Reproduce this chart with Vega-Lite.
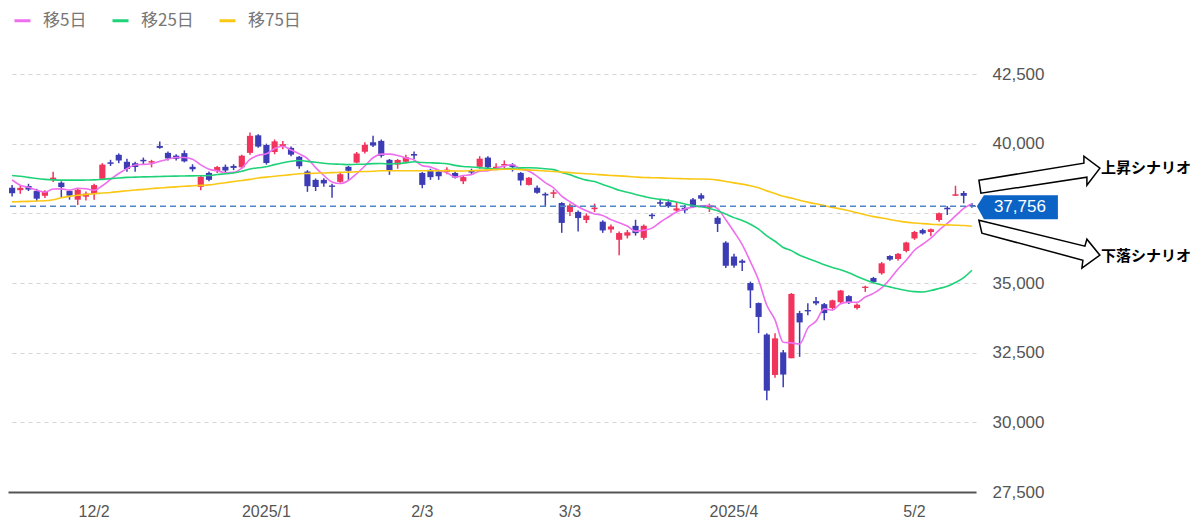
{
  "$schema": "https://vega.github.io/schema/vega-lite/v6.json",
  "width": 968,
  "height": 418,
  "autosize": {"type": "none"},
  "padding": {"left": 8, "top": 74, "right": 224, "bottom": 39},
  "background": "white",
  "config": {
    "view": {"stroke": null},
    "font": "Liberation Sans"
  },
  "data": {
    "values": [
      {"d": "2024-11-18", "o": 38420, "h": 38520, "l": 38100, "c": 38221, "m5": 38700, "m25": 38860, "m75": 37910},
      {"d": "2024-11-19", "o": 38330, "h": 38480, "l": 38200, "c": 38414, "m5": 38507, "m25": 38830, "m75": 37920},
      {"d": "2024-11-20", "o": 38480, "h": 38560, "l": 38300, "c": 38352, "m5": 38433, "m25": 38790, "m75": 37930},
      {"d": "2024-11-21", "o": 38300, "h": 38380, "l": 37930, "c": 38026, "m5": 38331, "m25": 38750, "m75": 37940},
      {"d": "2024-11-22", "o": 38130, "h": 38330, "l": 38050, "c": 38284, "m5": 38259, "m25": 38720, "m75": 37950},
      {"d": "2024-11-25", "o": 38700, "h": 38990, "l": 38620, "c": 38780, "m5": 38371, "m25": 38700, "m75": 37990},
      {"d": "2024-11-26", "o": 38600, "h": 38650, "l": 38060, "c": 38442, "m5": 38377, "m25": 38690, "m75": 38060},
      {"d": "2024-11-27", "o": 38300, "h": 38330, "l": 37990, "c": 38135, "m5": 38333, "m25": 38690, "m75": 38110},
      {"d": "2024-11-28", "o": 37990, "h": 38380, "l": 37800, "c": 38349, "m5": 38398, "m25": 38690, "m75": 38150},
      {"d": "2024-11-29", "o": 38100, "h": 38280, "l": 37960, "c": 38208, "m5": 38383, "m25": 38695, "m75": 38180},
      {"d": "2024-12-02", "o": 38200, "h": 38560, "l": 37990, "c": 38513, "m5": 38329, "m25": 38700, "m75": 38200},
      {"d": "2024-12-03", "o": 38740, "h": 39300, "l": 38700, "c": 39249, "m5": 38491, "m25": 38720, "m75": 38230},
      {"d": "2024-12-04", "o": 39330, "h": 39420, "l": 39200, "c": 39276, "m5": 38719, "m25": 38745, "m75": 38250},
      {"d": "2024-12-05", "o": 39600, "h": 39650, "l": 39300, "c": 39396, "m5": 38928, "m25": 38770, "m75": 38280},
      {"d": "2024-12-06", "o": 39350, "h": 39460, "l": 38990, "c": 39091, "m5": 39105, "m25": 38790, "m75": 38310},
      {"d": "2024-12-09", "o": 39300, "h": 39350, "l": 38990, "c": 39161, "m5": 39235, "m25": 38800, "m75": 38340},
      {"d": "2024-12-10", "o": 39420, "h": 39500, "l": 39250, "c": 39368, "m5": 39258, "m25": 38810, "m75": 38360},
      {"d": "2024-12-11", "o": 39320, "h": 39420, "l": 39150, "c": 39372, "m5": 39278, "m25": 38815, "m75": 38390},
      {"d": "2024-12-12", "o": 39920, "h": 40080, "l": 39820, "c": 39849, "m5": 39368, "m25": 38820, "m75": 38410},
      {"d": "2024-12-13", "o": 39670, "h": 39720, "l": 39400, "c": 39470, "m5": 39444, "m25": 38830, "m75": 38430},
      {"d": "2024-12-16", "o": 39570, "h": 39620, "l": 39400, "c": 39457, "m5": 39503, "m25": 38835, "m75": 38450},
      {"d": "2024-12-17", "o": 39660, "h": 39760, "l": 39330, "c": 39365, "m5": 39503, "m25": 38840, "m75": 38470},
      {"d": "2024-12-18", "o": 39170, "h": 39260, "l": 39000, "c": 39082, "m5": 39445, "m25": 38845, "m75": 38490},
      {"d": "2024-12-19", "o": 38450, "h": 38840, "l": 38330, "c": 38814, "m5": 39238, "m25": 38850, "m75": 38505},
      {"d": "2024-12-20", "o": 38950, "h": 39000, "l": 38650, "c": 38702, "m5": 39084, "m25": 38855, "m75": 38520},
      {"d": "2024-12-23", "o": 39020, "h": 39200, "l": 38950, "c": 39161, "m5": 39025, "m25": 38893, "m75": 38560},
      {"d": "2024-12-24", "o": 39170, "h": 39250, "l": 38950, "c": 39037, "m5": 38959, "m25": 38918, "m75": 38600},
      {"d": "2024-12-25", "o": 39200, "h": 39260, "l": 39050, "c": 39130, "m5": 38969, "m25": 38949, "m75": 38640},
      {"d": "2024-12-26", "o": 39150, "h": 39600, "l": 39100, "c": 39568, "m5": 39120, "m25": 39010, "m75": 38680},
      {"d": "2024-12-27", "o": 39670, "h": 40400, "l": 39600, "c": 40281, "m5": 39435, "m25": 39090, "m75": 38720},
      {"d": "2024-12-30", "o": 40300, "h": 40340, "l": 39850, "c": 39895, "m5": 39582, "m25": 39135, "m75": 38770},
      {"d": "2025-01-06", "o": 39950, "h": 40000, "l": 39250, "c": 39307, "m5": 39636, "m25": 39169, "m75": 38800},
      {"d": "2025-01-07", "o": 39700, "h": 40150, "l": 39620, "c": 40083, "m5": 39827, "m25": 39247, "m75": 38830},
      {"d": "2025-01-08", "o": 39900, "h": 40100, "l": 39800, "c": 39981, "m5": 39909, "m25": 39313, "m75": 38860},
      {"d": "2025-01-09", "o": 39850, "h": 39900, "l": 39550, "c": 39605, "m5": 39774, "m25": 39369, "m75": 38890},
      {"d": "2025-01-10", "o": 39530, "h": 39560, "l": 39100, "c": 39190, "m5": 39633, "m25": 39396, "m75": 38920},
      {"d": "2025-01-14", "o": 39000, "h": 39050, "l": 38270, "c": 38474, "m5": 39467, "m25": 39365, "m75": 38930},
      {"d": "2025-01-15", "o": 38700, "h": 38750, "l": 38300, "c": 38445, "m5": 39139, "m25": 39331, "m75": 38940},
      {"d": "2025-01-16", "o": 38700, "h": 38760, "l": 38450, "c": 38573, "m5": 38857, "m25": 39298, "m75": 38950},
      {"d": "2025-01-17", "o": 38500, "h": 38560, "l": 38060, "c": 38451, "m5": 38627, "m25": 39273, "m75": 38960},
      {"d": "2025-01-20", "o": 38630, "h": 38950, "l": 38600, "c": 38903, "m5": 38569, "m25": 39263, "m75": 38970},
      {"d": "2025-01-21", "o": 39170, "h": 39200, "l": 38700, "c": 39028, "m5": 38680, "m25": 39249, "m75": 38980},
      {"d": "2025-01-22", "o": 39320, "h": 39700, "l": 39300, "c": 39646, "m5": 38920, "m25": 39260, "m75": 38990},
      {"d": "2025-01-23", "o": 39710, "h": 40050, "l": 39650, "c": 39959, "m5": 39197, "m25": 39264, "m75": 39000},
      {"d": "2025-01-24", "o": 40050, "h": 40280, "l": 39880, "c": 39932, "m5": 39494, "m25": 39283, "m75": 39010},
      {"d": "2025-01-27", "o": 40100, "h": 40150, "l": 39500, "c": 39566, "m5": 39626, "m25": 39287, "m75": 39030},
      {"d": "2025-01-28", "o": 39420, "h": 39450, "l": 38880, "c": 39017, "m5": 39624, "m25": 39273, "m75": 39030},
      {"d": "2025-01-29", "o": 39250, "h": 39450, "l": 39100, "c": 39415, "m5": 39578, "m25": 39287, "m75": 39030},
      {"d": "2025-01-30", "o": 39350, "h": 39600, "l": 39300, "c": 39514, "m5": 39489, "m25": 39315, "m75": 39030},
      {"d": "2025-01-31", "o": 39630, "h": 39720, "l": 39450, "c": 39572, "m5": 39417, "m25": 39349, "m75": 39030},
      {"d": "2025-02-03", "o": 38950, "h": 38980, "l": 38400, "c": 38520, "m5": 39208, "m25": 39324, "m75": 39030},
      {"d": "2025-02-04", "o": 39060, "h": 39100, "l": 38700, "c": 38798, "m5": 39164, "m25": 39314, "m75": 39030},
      {"d": "2025-02-05", "o": 39000, "h": 39050, "l": 38700, "c": 38831, "m5": 39047, "m25": 39302, "m75": 39030},
      {"d": "2025-02-06", "o": 38980, "h": 39150, "l": 38900, "c": 39067, "m5": 38958, "m25": 39282, "m75": 39030},
      {"d": "2025-02-07", "o": 38950, "h": 39000, "l": 38750, "c": 38787, "m5": 38801, "m25": 39222, "m75": 39020},
      {"d": "2025-02-10", "o": 38650, "h": 38850, "l": 38550, "c": 38801, "m5": 38857, "m25": 39179, "m75": 39020},
      {"d": "2025-02-12", "o": 39050, "h": 39100, "l": 38900, "c": 38964, "m5": 38890, "m25": 39165, "m75": 39030},
      {"d": "2025-02-13", "o": 39170, "h": 39550, "l": 39100, "c": 39461, "m5": 39016, "m25": 39140, "m75": 39040},
      {"d": "2025-02-14", "o": 39500, "h": 39550, "l": 39100, "c": 39149, "m5": 39032, "m25": 39107, "m75": 39060},
      {"d": "2025-02-17", "o": 39120, "h": 39300, "l": 39050, "c": 39174, "m5": 39110, "m25": 39089, "m75": 39070},
      {"d": "2025-02-18", "o": 39220, "h": 39400, "l": 39100, "c": 39270, "m5": 39204, "m25": 39093, "m75": 39080},
      {"d": "2025-02-19", "o": 39250, "h": 39300, "l": 39000, "c": 39165, "m5": 39244, "m25": 39120, "m75": 39080},
      {"d": "2025-02-20", "o": 38950, "h": 38980, "l": 38500, "c": 38678, "m5": 39087, "m25": 39130, "m75": 39070},
      {"d": "2025-02-21", "o": 38520, "h": 38800, "l": 38500, "c": 38777, "m5": 39013, "m25": 39138, "m75": 39060},
      {"d": "2025-02-25", "o": 38420, "h": 38500, "l": 38200, "c": 38238, "m5": 38826, "m25": 39129, "m75": 39040},
      {"d": "2025-02-26", "o": 38200, "h": 38250, "l": 37730, "c": 38142, "m5": 38600, "m25": 39099, "m75": 39020},
      {"d": "2025-02-27", "o": 38200, "h": 38350, "l": 38050, "c": 38256, "m5": 38418, "m25": 39068, "m75": 39000},
      {"d": "2025-02-28", "o": 37870, "h": 37900, "l": 36800, "c": 37156, "m5": 38114, "m25": 38968, "m75": 38980},
      {"d": "2025-03-03", "o": 37550, "h": 37850, "l": 37400, "c": 37785, "m5": 37915, "m25": 38881, "m75": 38960},
      {"d": "2025-03-04", "o": 37550, "h": 37600, "l": 36850, "c": 37331, "m5": 37734, "m25": 38777, "m75": 38940},
      {"d": "2025-03-05", "o": 37260, "h": 37500, "l": 37150, "c": 37418, "m5": 37589, "m25": 38691, "m75": 38920},
      {"d": "2025-03-06", "o": 37650, "h": 37850, "l": 37550, "c": 37705, "m5": 37479, "m25": 38639, "m75": 38900},
      {"d": "2025-03-07", "o": 37200, "h": 37250, "l": 36800, "c": 36887, "m5": 37425, "m25": 38538, "m75": 38880},
      {"d": "2025-03-10", "o": 36920, "h": 37100, "l": 36800, "c": 37028, "m5": 37274, "m25": 38438, "m75": 38860},
      {"d": "2025-03-11", "o": 36550, "h": 36850, "l": 36000, "c": 36793, "m5": 37166, "m25": 38327, "m75": 38844},
      {"d": "2025-03-12", "o": 36700, "h": 36900, "l": 36600, "c": 36819, "m5": 37046, "m25": 38259, "m75": 38825},
      {"d": "2025-03-13", "o": 37050, "h": 37270, "l": 36700, "c": 36790, "m5": 36863, "m25": 38179, "m75": 38804},
      {"d": "2025-03-14", "o": 36620, "h": 37100, "l": 36550, "c": 37053, "m5": 36897, "m25": 38108, "m75": 38786},
      {"d": "2025-03-17", "o": 37450, "h": 37500, "l": 37300, "c": 37397, "m5": 36970, "m25": 38041, "m75": 38778},
      {"d": "2025-03-18", "o": 37900, "h": 38000, "l": 37750, "c": 37845, "m5": 37181, "m25": 38003, "m75": 38772},
      {"d": "2025-03-19", "o": 37900, "h": 38000, "l": 37700, "c": 37752, "m5": 37367, "m25": 37961, "m75": 38758},
      {"d": "2025-03-21", "o": 37600, "h": 37900, "l": 37550, "c": 37677, "m5": 37545, "m25": 37910, "m75": 38748},
      {"d": "2025-03-24", "o": 37700, "h": 37800, "l": 37500, "c": 37608, "m5": 37656, "m25": 37836, "m75": 38741},
      {"d": "2025-03-25", "o": 38000, "h": 38050, "l": 37700, "c": 37781, "m5": 37733, "m25": 37781, "m75": 38733},
      {"d": "2025-03-26", "o": 38150, "h": 38220, "l": 37950, "c": 38027, "m5": 37769, "m25": 37735, "m75": 38731},
      {"d": "2025-03-27", "o": 37700, "h": 37850, "l": 37550, "c": 37800, "m5": 37779, "m25": 37676, "m75": 38722},
      {"d": "2025-03-28", "o": 37340, "h": 37400, "l": 36830, "c": 37120, "m5": 37667, "m25": 37595, "m75": 38693},
      {"d": "2025-03-31", "o": 36450, "h": 36500, "l": 35540, "c": 35618, "m5": 37269, "m25": 37472, "m75": 38644},
      {"d": "2025-04-01", "o": 35950, "h": 36050, "l": 35550, "c": 35624, "m5": 36838, "m25": 37346, "m75": 38594},
      {"d": "2025-04-02", "o": 35800, "h": 35850, "l": 35430, "c": 35726, "m5": 36378, "m25": 37246, "m75": 38549},
      {"d": "2025-04-03", "o": 35000, "h": 35050, "l": 34100, "c": 34736, "m5": 35765, "m25": 37109, "m75": 38490},
      {"d": "2025-04-04", "o": 34280, "h": 34300, "l": 33200, "c": 33781, "m5": 35097, "m25": 36930, "m75": 38416},
      {"d": "2025-04-07", "o": 33150, "h": 33200, "l": 30792, "c": 31137, "m5": 34201, "m25": 36690, "m75": 38306},
      {"d": "2025-04-08", "o": 31700, "h": 33200, "l": 31600, "c": 33013, "m5": 33679, "m25": 36499, "m75": 38215},
      {"d": "2025-04-09", "o": 32510, "h": 32600, "l": 31260, "c": 31714, "m5": 32876, "m25": 36274, "m75": 38111},
      {"d": "2025-04-10", "o": 32300, "h": 34640, "l": 32300, "c": 34609, "m5": 32851, "m25": 36162, "m75": 38047},
      {"d": "2025-04-11", "o": 33920, "h": 34000, "l": 32350, "c": 33586, "m5": 32812, "m25": 35997, "m75": 37970},
      {"d": "2025-04-14", "o": 34030, "h": 34270, "l": 33840, "c": 33982, "m5": 33381, "m25": 35881, "m75": 37902},
      {"d": "2025-04-15", "o": 34350, "h": 34500, "l": 34200, "c": 34268, "m5": 33632, "m25": 35770, "m75": 37841},
      {"d": "2025-04-16", "o": 34240, "h": 34280, "l": 33660, "c": 33920, "m5": 34073, "m25": 35655, "m75": 37777},
      {"d": "2025-04-17", "o": 34100, "h": 34400, "l": 34050, "c": 34378, "m5": 34027, "m25": 35558, "m75": 37714},
      {"d": "2025-04-18", "o": 34310, "h": 34750, "l": 34250, "c": 34730, "m5": 34256, "m25": 35475, "m75": 37656},
      {"d": "2025-04-21", "o": 34530, "h": 34560, "l": 34250, "c": 34280, "m5": 34315, "m25": 35364, "m75": 37591},
      {"d": "2025-04-22", "o": 34100, "h": 34260, "l": 34050, "c": 34221, "m5": 34306, "m25": 35237, "m75": 37520},
      {"d": "2025-04-23", "o": 34820, "h": 34900, "l": 34680, "c": 34869, "m5": 34496, "m25": 35118, "m75": 37448},
      {"d": "2025-04-24", "o": 35180, "h": 35220, "l": 34990, "c": 35039, "m5": 34628, "m25": 35010, "m75": 37383},
      {"d": "2025-04-25", "o": 35350, "h": 35750, "l": 35300, "c": 35706, "m5": 34823, "m25": 34931, "m75": 37335},
      {"d": "2025-04-28", "o": 35970, "h": 36000, "l": 35800, "c": 35840, "m5": 35135, "m25": 34860, "m75": 37279},
      {"d": "2025-04-30", "o": 35860, "h": 36080, "l": 35800, "c": 36045, "m5": 35500, "m25": 34791, "m75": 37226},
      {"d": "2025-05-01", "o": 36150, "h": 36480, "l": 36100, "c": 36452, "m5": 35816, "m25": 34728, "m75": 37184},
      {"d": "2025-05-02", "o": 36600, "h": 36870, "l": 36550, "c": 36831, "m5": 36175, "m25": 34689, "m75": 37153},
      {"d": "2025-05-07", "o": 36900, "h": 36950, "l": 36740, "c": 36780, "m5": 36390, "m25": 34675, "m75": 37130},
      {"d": "2025-05-08", "o": 36830, "h": 36960, "l": 36680, "c": 36929, "m5": 36607, "m25": 34728, "m75": 37110},
      {"d": "2025-05-09", "o": 37260, "h": 37530, "l": 37200, "c": 37503, "m5": 36899, "m25": 34803, "m75": 37096},
      {"d": "2025-05-12", "o": 37700, "h": 37760, "l": 37440, "c": 37644, "m5": 37137, "m25": 34880, "m75": 37085},
      {"d": "2025-05-13", "o": 38130, "h": 38490, "l": 38120, "c": 38183, "m5": 37408, "m25": 35018, "m75": 37075},
      {"d": "2025-05-14", "o": 38230, "h": 38300, "l": 37860, "c": 38128, "m5": 37677, "m25": 35191, "m75": 37063},
      {"d": "2025-05-15", "o": 37800, "h": 37870, "l": 37700, "c": 37756, "m5": 37843, "m25": 35456, "m75": 37038}
    ]
  },
  "layer": [
    {
      "mark": {"type": "rule", "strokeWidth": 1.5},
      "encoding": {
        "x": {
          "field": "d",
          "type": "ordinal",
          "sort": null,
          "title": null,
          "scale": {"type": "band", "paddingInner": 0, "paddingOuter": 0},
          "axis": {
            "values": ["2024-12-02", "2025-01-06", "2025-02-03", "2025-03-03", "2025-04-01", "2025-05-02"],
            "labelExpr": "datum.value == '2024-12-02' ? '12/2' : datum.value == '2025-01-06' ? '2025/1' : datum.value == '2025-02-03' ? '2/3' : datum.value == '2025-03-03' ? '3/3' : datum.value == '2025-04-01' ? '2025/4' : '5/2'",
            "labelAngle": 0,
            "labelFont": "Liberation Sans Narrow, Liberation Sans, sans-serif",
            "labelFontSize": 16,
            "labelColor": "#555555",
            "labelPadding": 11,
            "ticks": false,
            "grid": false,
            "domain": true,
            "domainColor": "#555555",
            "domainWidth": 2
          }
        },
        "y": {
          "field": "l",
          "type": "quantitative",
          "title": null,
          "scale": {"domain": [27500, 42500], "zero": false, "nice": false},
          "axis": {
            "orient": "right",
            "values": [27500, 30000, 32500, 35000, 37500, 40000, 42500],
            "labelExpr": "datum.value == 37500 ? '' : format(datum.value, ',')",
            "labelFontSize": 17,
            "labelColor": "#555555",
            "labelPadding": 16,
            "domain": false,
            "ticks": false,
            "grid": true,
            "gridColor": "#d4d4d4",
            "gridDash": [4, 4],
            "gridWidth": 1.2
          }
        },
        "y2": {"field": "h"},
        "color": {"condition": {"test": "datum.c >= datum.o", "value": "#f0345c"}, "value": "#3c3db4"}
      }
    },
    {
      "mark": {"type": "bar", "width": {"band": 0.75}},
      "encoding": {
        "x": {"field": "d", "type": "ordinal", "sort": null},
        "y": {"field": "o", "type": "quantitative"},
        "y2": {"field": "c"},
        "color": {"condition": {"test": "datum.c >= datum.o", "value": "#f0345c"}, "value": "#3c3db4"}
      }
    },
    {
      "transform": [{"fold": ["m5", "m25", "m75"], "as": ["s", "v"]}],
      "mark": {"type": "line", "strokeWidth": 1.6, "interpolate": "monotone"},
      "encoding": {
        "x": {"field": "d", "type": "ordinal", "sort": null},
        "y": {"field": "v", "type": "quantitative"},
        "color": {
          "field": "s",
          "type": "nominal",
          "scale": {"domain": ["m5", "m25", "m75"], "range": ["#ee6eee", "#1ed278", "#fac814"]},
          "legend": {
            "orient": "none",
            "legendX": 5,
            "legendY": -63,
            "direction": "horizontal",
            "title": null,
            "padding": 0,
            "symbolType": "stroke",
            "symbolSize": 256,
            "symbolStrokeWidth": 3,
            "labelFont": "Noto Sans CJK JP",
            "labelFontSize": 17,
            "labelColor": "#777777",
            "labelOffset": 11,
            "columnPadding": 19,
            "labelExpr": "datum.label == 'm5' ? '移5日' : datum.label == 'm25' ? '移25日' : '移75日'"
          }
        }
      }
    },
    {
      "data": {"values": [{"p": 37756}]},
      "mark": {"type": "rule", "stroke": "#4f86c6", "strokeDash": [6, 4], "strokeWidth": 1.5},
      "encoding": {"y": {"field": "p", "type": "quantitative"}}
    },
    {
      "data": {"values": [{"d": "2025-05-15", "p": 37756, "t": "37,756"}]},
      "layer": [
        {
          "mark": {
            "type": "point",
            "shape": "M5,0L12,-11L86,-11L86,13L12,13Z",
            "size": 4,
            "filled": true,
            "color": "#0b63c5",
            "opacity": 1,
            "strokeWidth": 0
          },
          "encoding": {
            "x": {"field": "d", "type": "ordinal", "sort": null},
            "y": {"field": "p", "type": "quantitative"}
          }
        },
        {
          "mark": {"type": "text", "dx": 48, "dy": 1, "align": "center", "baseline": "middle", "color": "white", "fontSize": 17},
          "encoding": {
            "x": {"field": "d", "type": "ordinal", "sort": null},
            "y": {"field": "p", "type": "quantitative"},
            "text": {"field": "t"}
          }
        },
        {
          "mark": {
            "type": "point",
            "shape": "M7,-26L112,-43L112,-50L128,-38L115,-21L115,-29L9,-13Z M7,14L113,40L115,33L128,49L110,62L111,54L10,27Z",
            "size": 4,
            "filled": true,
            "fill": "white",
            "stroke": "black",
            "strokeWidth": 1.5,
            "opacity": 1
          },
          "encoding": {
            "x": {"field": "d", "type": "ordinal", "sort": null},
            "y": {"field": "p", "type": "quantitative"}
          }
        },
        {
          "mark": {"type": "text", "dx": 129, "dy": -38, "align": "left", "baseline": "middle", "color": "black", "font": "Noto Sans CJK JP", "fontWeight": "bold", "fontSize": 15, "text": "上昇シナリオ"},
          "encoding": {
            "x": {"field": "d", "type": "ordinal", "sort": null},
            "y": {"field": "p", "type": "quantitative"}
          }
        },
        {
          "mark": {"type": "text", "dx": 129, "dy": 50, "align": "left", "baseline": "middle", "color": "black", "font": "Noto Sans CJK JP", "fontWeight": "bold", "fontSize": 15, "text": "下落シナリオ"},
          "encoding": {
            "x": {"field": "d", "type": "ordinal", "sort": null},
            "y": {"field": "p", "type": "quantitative"}
          }
        }
      ]
    }
  ]
}
